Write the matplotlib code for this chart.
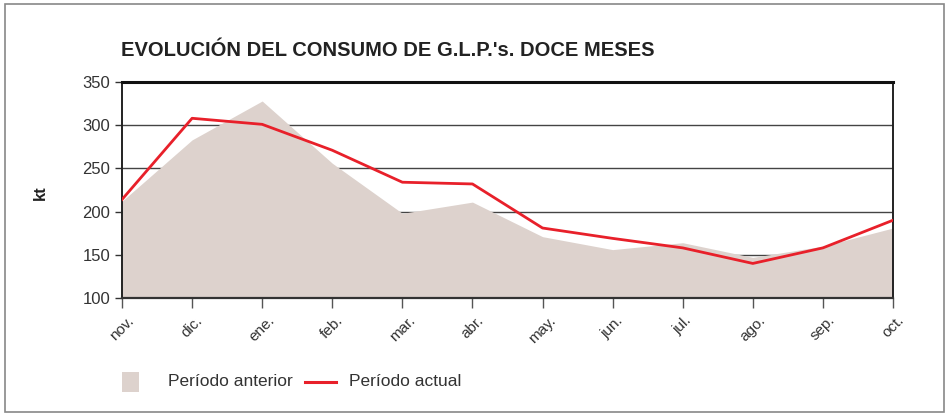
import matplotlib.pyplot as plt
from matplotlib.patches import Rectangle
from matplotlib.lines import Line2D

plt.rcParams['font.family'] = ['Liberation Sans', 'DejaVu Sans']

months = ['nov.', 'dic.', 'ene.', 'feb.', 'mar.', 'abr.', 'may.', 'jun.', 'jul.', 'ago.', 'sep.', 'oct.']
anterior = [212, 283, 328, 256, 198, 211, 171, 156, 164, 147, 160, 181]
actual = [214, 308, 301, 271, 234, 232, 181, 169, 158, 140, 158, 190]

fill_color = '#ddd2cd'
red = '#e8202a'

fig = plt.figure(figsize=(9.52, 4.16), dpi=100)
# outer frame
fig.patches.append(Rectangle((5 / 952, 4 / 416), 939 / 952, 408 / 416, transform=fig.transFigure,
                             fill=False, edgecolor='#888888', linewidth=1.2))

ax = fig.add_axes([122 / 952, 1 - 298 / 416, 771 / 952, 216 / 416])
x = list(range(len(months)))

# grid under the area
for v in [150, 200, 250, 300]:
    ax.axhline(v, color='#444444', linewidth=1, zorder=0)
ax.fill_between(x, 100, anterior, color=fill_color, linewidth=0, zorder=1)
ax.plot(x, actual, color=red, linewidth=2, zorder=3)

ax.set_xlim(0, len(months) - 1)
ax.set_ylim(100, 350)
ax.set_yticks([100, 150, 200, 250, 300, 350])
ax.set_xticks(x)
ax.set_xticklabels(months, rotation=45, ha='center', va='top', fontsize=11, color='#333333')
ax.tick_params(axis='y', labelsize=12, colors='#333333', length=5, width=1)
ax.tick_params(axis='x', length=7, width=1, color='#555555', pad=4)

ax.spines['top'].set_linewidth(2.2)
ax.spines['top'].set_color('#111111')
ax.spines['bottom'].set_linewidth(1.6)
ax.spines['bottom'].set_color('#333333')
ax.spines['left'].set_linewidth(1.4)
ax.spines['left'].set_color('#222222')
ax.spines['right'].set_linewidth(1.4)
ax.spines['right'].set_color('#222222')

fig.text(121 / 952, 1 - 50 / 416, "EVOLUCIÓN DEL CONSUMO DE G.L.P.'s. DOCE MESES",
         fontsize=14.5, fontweight='bold', color='#222222', va='center', ha='left')
fig.text(40 / 952, 1 - 193 / 416, 'kt', rotation=90, fontsize=12, fontweight='bold',
         color='#222222', va='center', ha='center')

# legend
fig.patches.append(Rectangle((122 / 952, 1 - 392 / 416), 17 / 952, 20 / 416,
                             transform=fig.transFigure, facecolor=fill_color, edgecolor='none'))
fig.text(168 / 952, 1 - 382 / 416, 'Período anterior', fontsize=12.5, color='#333333', va='center')
fig.lines.append(Line2D([305 / 952, 336 / 952], [1 - 382 / 416, 1 - 382 / 416],
                        transform=fig.transFigure, color=red, linewidth=2.2))
fig.text(349 / 952, 1 - 382 / 416, 'Período actual', fontsize=12.5, color='#333333', va='center')

fig.savefig('out.png', dpi=100)
